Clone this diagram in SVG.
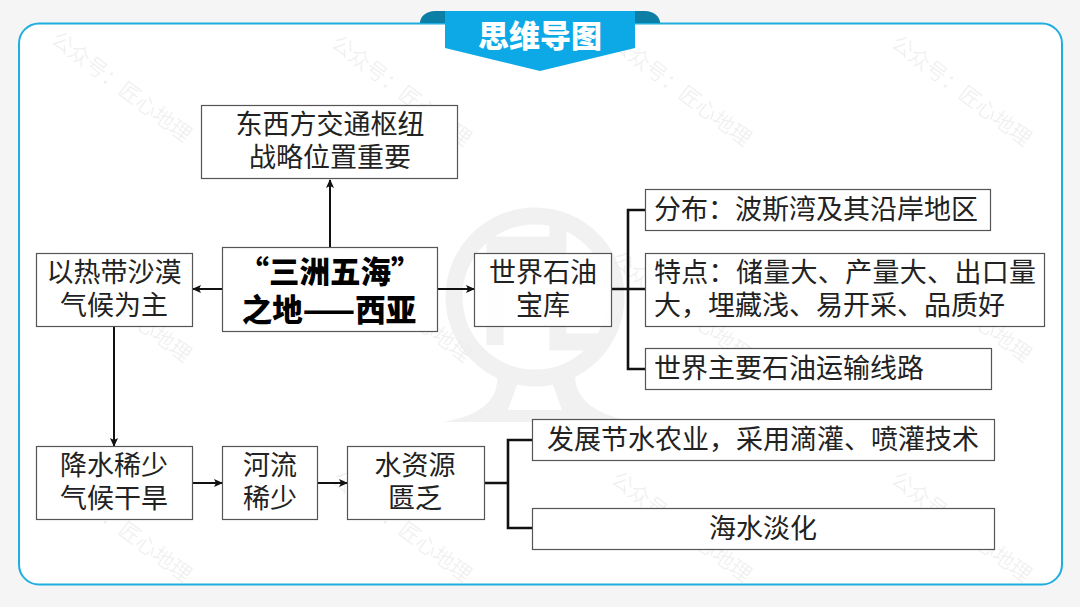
<svg xmlns="http://www.w3.org/2000/svg" width="1080" height="607" viewBox="0 0 1080 607">
<style>
.box{fill:#fff;fill-opacity:.88;stroke:#555;stroke-width:1.2}
.t{font-family:"Noto Sans CJK SC","Liberation Sans",sans-serif;font-size:27px;fill:#222;text-anchor:middle;font-weight:400}
.l{text-anchor:start}
.b{font-weight:900;fill:#000;font-size:30.500px}
.c{fill:none;stroke:#111;stroke-width:2}
.c2{fill:none;stroke:#111;stroke-width:2.600}
.wm{font-family:"Noto Sans CJK SC",sans-serif;font-size:21px;fill:#eeeeee;font-weight:300}
.lg{fill:none;stroke:#f1f1f1;stroke-width:17}
</style>
<defs>
<marker id="a" markerWidth="9" markerHeight="8" refX="8" refY="4" orient="auto" markerUnits="userSpaceOnUse"><path d="M0 0L9 4L0 8L2 4Z" fill="#111"/></marker>
<text id="w" class="wm" transform="rotate(37)">公众号：匠心地理</text>
</defs>
<rect width="1080" height="607" fill="#f5f5f5"/>
<rect x="19" y="23.500" width="1043" height="561" rx="20" fill="#fff" stroke="#1eaee0" stroke-width="2"/>
<g id="logo">
<circle cx="535" cy="297" r="81" class="lg"/>
<path class="lg" d="M495 345V245H558V222M558 245V325M590 280H558V342H598"/>
<path d="M443 422Q500 412 497 375L518 382L508 410H562L552 382L575 375Q575 412 636 422Z" fill="#f1f1f1"/>
</g>
<g id="watermarks">
<use href="#w" x="50" y="42"/><use href="#w" x="330" y="46"/><use href="#w" x="610" y="46"/><use href="#w" x="890" y="46"/>
<use href="#w" x="50" y="262"/><use href="#w" x="330" y="262"/><use href="#w" x="610" y="262"/><use href="#w" x="890" y="262"/>
<use href="#w" x="50" y="482"/><use href="#w" x="330" y="482"/><use href="#w" x="610" y="482"/><use href="#w" x="890" y="482"/>
</g>
<g id="banner">
<path d="M420 23A15 12 0 0 1 435 11H460V23Z" fill="#0b7fa6"/>
<path d="M660 23A15 12 0 0 0 645 11H620V23Z" fill="#0b7fa6"/>
<path d="M445 11H635V48L540 71L445 48Z" fill="#0ca9e6"/>
<text x="540" y="47" class="t b" style="font-size:31px;fill:#fff">思维导图</text>
</g>
<g id="connectors">
<path class="c" d="M330 247V180" marker-end="url(#a)"/>
<path class="c" d="M222 289H193" marker-end="url(#a)"/>
<path class="c" d="M438 289H474" marker-end="url(#a)"/>
<path class="c" d="M114 327V446" marker-end="url(#a)"/>
<path class="c" d="M192 483H222" marker-end="url(#a)"/>
<path class="c" d="M318 483H347" marker-end="url(#a)"/>
<path class="c2" d="M612 289H645M645 210H628V369H645"/>
<path class="c2" d="M485 483H508M532 440H508V528H532"/>
</g>
<g id="n1"><rect class="box" x="201.500" y="105.500" width="256" height="73"/><text class="t" x="330" y="134">东西方交通枢纽</text><text class="t" x="330" y="167">战略位置重要</text></g>
<g id="n2"><rect class="box" x="222.500" y="247.500" width="215" height="84"/><text class="t b" x="330" y="283">“三洲五海”</text><text class="t b" x="329" y="321">之地——西亚</text></g>
<g id="n3"><rect class="box" x="36.500" y="253.500" width="156" height="73"/><text class="t" x="114" y="282">以热带沙漠</text><text class="t" x="114" y="315">气候为主</text></g>
<g id="n4"><rect class="box" x="474.500" y="253.500" width="137" height="73"/><text class="t" x="543" y="282">世界石油</text><text class="t" x="543" y="315">宝库</text></g>
<g id="n5"><rect class="box" x="645.500" y="189.500" width="345" height="41"/><text class="t l" x="654" y="219">分布：波斯湾及其沿岸地区</text></g>
<g id="n6"><rect class="box" x="645.500" y="253.500" width="399" height="73"/><text class="t l" x="654" y="282" textLength="382">特点：储量大、产量大、出口量</text><text class="t l" x="654" y="315">大，埋藏浅、易开采、品质好</text></g>
<g id="n7"><rect class="box" x="645.500" y="348.500" width="346" height="41"/><text class="t l" x="654" y="378">世界主要石油运输线路</text></g>
<g id="n8"><rect class="box" x="36.500" y="446.500" width="156" height="73"/><text class="t" x="114" y="475">降水稀少</text><text class="t" x="114" y="508">气候干旱</text></g>
<g id="n9"><rect class="box" x="222.500" y="446.500" width="95" height="73"/><text class="t" x="270" y="475">河流</text><text class="t" x="270" y="508">稀少</text></g>
<g id="n10"><rect class="box" x="347.500" y="446.500" width="137" height="73"/><text class="t" x="415" y="475">水资源</text><text class="t" x="415" y="508">匮乏</text></g>
<g id="n11"><rect class="box" x="532.500" y="419.500" width="462" height="41"/><text class="t" x="763" y="449">发展节水农业，采用滴灌、喷灌技术</text></g>
<g id="n12"><rect class="box" x="532.500" y="508.500" width="462" height="41"/><text class="t" x="763" y="538">海水淡化</text></g>
</svg>
